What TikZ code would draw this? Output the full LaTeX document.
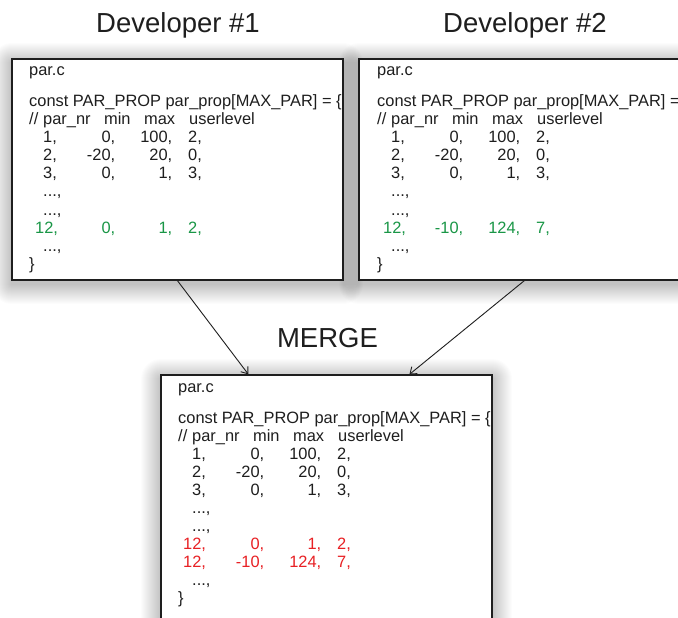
\documentclass[tikz,border=0pt]{standalone}
\usepackage{fontspec}
\setmainfont{Liberation Sans}
\usetikzlibrary{arrows.meta}
\definecolor{codegreen}{RGB}{25,150,70}
\definecolor{codered}{RGB}{232,32,36}
\definecolor{ink}{RGB}{30,30,30}
\newcommand\crow[5]{\rlap{\hspace*{#1}#2}\rlap{\hspace*{86bp}\llap{#3}}\rlap{\hspace*{143bp}\llap{#4}}\hspace*{159bp}#5}
\newcommand\chead{\rlap{//}\rlap{\hspace*{14bp}par\_nr}\rlap{\hspace*{75bp}min}\rlap{\hspace*{115bp}max}\hspace*{160bp}userlevel}
\newcommand\cellipsis{\hspace*{14bp}...,}
\newcommand\glow[4]{\foreach \i in {1,...,20}{\fill[black,opacity=0.012,rounded corners=\i bp] (#1-\i,#2-\i+4) rectangle (#3+\i,#4+\i+4);}}
\begin{document}
\begin{tikzpicture}[x=1bp,y=-1bp,
  box/.style={draw=ink, line width=1.2bp, fill=white, inner sep=0pt},
  code/.style={anchor=base west, inner sep=0pt, text=ink, font=\fontsize{16.4bp}{18bp}\selectfont},
  title/.style={anchor=base, inner sep=0pt, text=ink, font=\fontsize{27.5bp}{30bp}\selectfont},
  arr/.style={draw=ink, line width=0.9bp, -{Straight Barb[length=6bp,width=9bp]}}]
\useasboundingbox (0,0) rectangle (678,618);
\fill[white] (0,0) rectangle (678,618);

% soft shadows
\glow{12}{59}{343}{280}
\glow{359}{59}{700}{280}
\glow{161}{375}{492}{640}

% boxes
\node[box, minimum width=331bp, minimum height=221bp] (dev1) at (177.5,169.5) {};
\node[box, minimum width=341bp, minimum height=221bp] (dev2) at (529.5,169.5) {};
\node[box, minimum width=331bp, minimum height=265bp] (merge) at (326.5,507.5) {};

% titles
\node[title] (t1) at (178,33) {Developer \#1};
\node[title] (t2) at (525,33) {Developer \#2};
\node[title] (tm) at (327.5,347) {MERGE};

% box 1
\node[code] (a0) at (29,76) {par.c};
\node[code] (a1) at (29,107) {const PAR\_PROP par\_prop[MAX\_PAR] = \{};
\node[code] (a2) at (29,125) {\chead};
\node[code] (a3) at (29,143) {\crow{14bp}{1,}{0,}{100,}{2,}};
\node[code] (a4) at (29,161) {\crow{14bp}{2,}{-20,}{20,}{0,}};
\node[code] (a5) at (29,179) {\crow{14bp}{3,}{0,}{1,}{3,}};
\node[code] (a6) at (29,197) {\cellipsis};
\node[code] (a7) at (29,215) {\cellipsis};
\node[code, text=codegreen] (a8) at (29,233) {\crow{6bp}{12,}{0,}{1,}{2,}};
\node[code] (a9) at (29,251) {\cellipsis};
\node[code] (a10) at (29,269) {\}};

% box 2
\node[code] (b0) at (377,76) {par.c};
\node[code] (b1) at (377,107) {const PAR\_PROP par\_prop[MAX\_PAR] = \{};
\node[code] (b2) at (377,125) {\chead};
\node[code] (b3) at (377,143) {\crow{14bp}{1,}{0,}{100,}{2,}};
\node[code] (b4) at (377,161) {\crow{14bp}{2,}{-20,}{20,}{0,}};
\node[code] (b5) at (377,179) {\crow{14bp}{3,}{0,}{1,}{3,}};
\node[code] (b6) at (377,197) {\cellipsis};
\node[code] (b7) at (377,215) {\cellipsis};
\node[code, text=codegreen] (b8) at (377,233) {\crow{6bp}{12,}{-10,}{124,}{7,}};
\node[code] (b9) at (377,251) {\cellipsis};
\node[code] (b10) at (377,269) {\}};

% box 3
\node[code] (c0) at (178,392) {par.c};
\node[code] (c1) at (178,423) {const PAR\_PROP par\_prop[MAX\_PAR] = \{};
\node[code] (c2) at (178,441) {\chead};
\node[code] (c3) at (178,459) {\crow{14bp}{1,}{0,}{100,}{2,}};
\node[code] (c4) at (178,477) {\crow{14bp}{2,}{-20,}{20,}{0,}};
\node[code] (c5) at (178,495) {\crow{14bp}{3,}{0,}{1,}{3,}};
\node[code] (c6) at (178,513) {\cellipsis};
\node[code] (c7) at (178,531) {\cellipsis};
\node[code, text=codered] (c8) at (178,549) {\crow{5bp}{12,}{0,}{1,}{2,}};
\node[code, text=codered] (c9) at (178,567) {\crow{5bp}{12,}{-10,}{124,}{7,}};
\node[code] (c10) at (178,585) {\cellipsis};
\node[code] (c11) at (178,603) {\}};

% arrows
\draw[arr] ([xshift=166bp]dev1.south west) -- ([xshift=88bp]merge.north west);
\draw[arr] ([xshift=166bp]dev2.south west) -- ([xshift=249bp]merge.north west);
\end{tikzpicture}
\end{document}
